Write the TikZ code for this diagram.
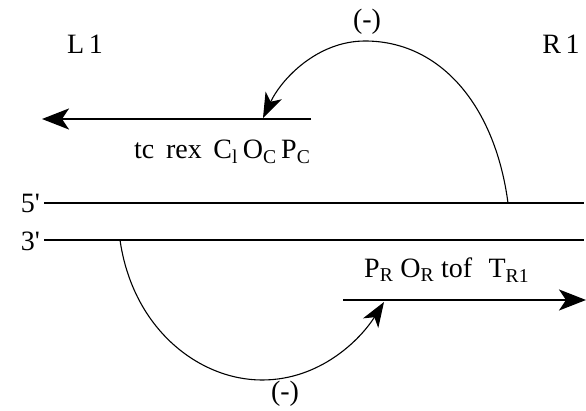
\documentclass[tikz,border=0pt]{standalone}
\usepackage{fontspec}
\setmainfont{Liberation Serif}
\newfontfamily\rawfont{Liberation Serif}[Ligatures=TeXOff]
\usetikzlibrary{arrows.meta}
\tikzset{
  lbl/.style={inner sep=0pt, font=\fontsize{28}{32}\selectfont},
  strand/.style={line width=2.5pt},
  bigarrow/.style={line width=2.5pt, -{Stealth[length=27pt,width=21pt,inset=7pt]}},
  loop/.style={line width=1.1pt, -{Stealth[length=25pt,width=18pt,inset=7pt]}}
}
\newcommand{\prm}{{\rawfont '}}
\begin{document}
\begin{tikzpicture}[x=1pt,y=-1pt]
\useasboundingbox (0,0) rectangle (586,411);
% labels
\node[lbl] (L1) at (85,44) {L\,1};
\node[lbl] (R1) at (561,44) {R\,1};
\node[lbl] (mtop) at (367,22) {(-)};
\node[lbl] (mbot) at (285,394) {(-)};
\node[lbl, anchor=east] (five) at (40,203) {5\prm};
\node[lbl, anchor=east] (three) at (40,241) {3\prm};
% strands
\coordinate (s5a) at (44,203);
\coordinate (s5b) at (584,203);
\coordinate (s3a) at (44,240);
\coordinate (s3b) at (584,240);
\draw[strand] (s5a) -- (s5b);
\draw[strand] (s3a) -- (s3b);
% top arrow
\coordinate (ta) at (311,119);
\coordinate (tb) at (42,119);
\draw[bigarrow] (ta) -- (tb);
\node[lbl, anchor=west] (ttext) at (134,152) {tc\, rex\, C\textsubscript{l}\,O\textsubscript{C}\,P\textsubscript{C}};
% bottom arrow
\coordinate (ba) at (343,300);
\coordinate (bb) at (586,300);
\draw[bigarrow] (ba) -- (bb);
\node[lbl, anchor=west] (btext) at (364,270) {P\textsubscript{R} O\textsubscript{R} tof\,\, T\textsubscript{R1}};
% loops
\coordinate (c1s) at (508,203);
\coordinate (c1m) at (365,41);
\coordinate (c1e) at (263,118);
\draw[loop] (c1s) .. controls (495,105) and (440,41) .. (c1m) .. controls (318,41) and (282,78) .. (c1e);
\coordinate (c2s) at (120,240);
\coordinate (c2m) at (262,380);
\coordinate (c2e) at (384,302);
\draw[loop] (c2s) .. controls (133,330) and (200,380) .. (c2m) .. controls (320,380) and (360,340) .. (c2e);
\end{tikzpicture}
\end{document}
